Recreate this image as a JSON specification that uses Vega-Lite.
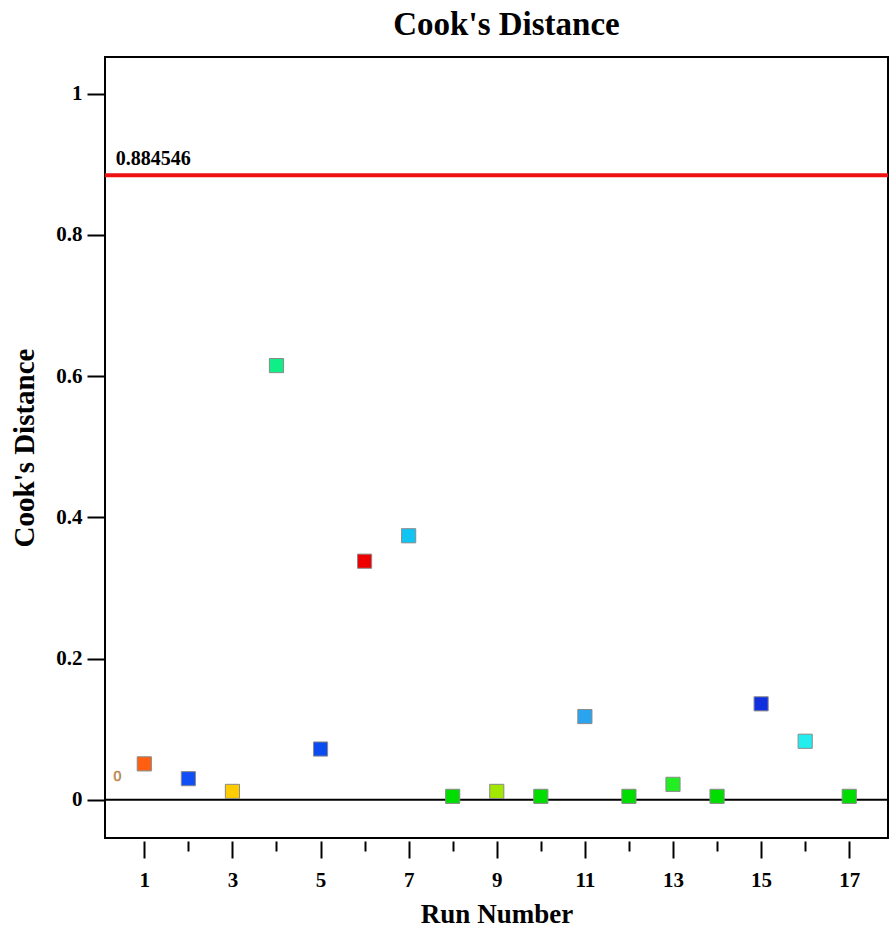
{
  "$schema": "https://vega.github.io/schema/vega-lite/v6.json",
  "width": 783,
  "height": 781,
  "autosize": "none",
  "padding": {"left": 105, "top": 57, "right": 1, "bottom": 94},
  "background": "white",
  "config": {
    "view": {"stroke": "black", "strokeWidth": 2},
    "font": "Liberation Serif"
  },
  "title": {
    "text": "Cook's Distance",
    "font": "Liberation Serif",
    "fontSize": 33,
    "fontWeight": "bold",
    "color": "black",
    "offset": 15,
    "dx": 10
  },
  "datasets": {
    "points": [
      {"run": 1, "d": 0.051},
      {"run": 2, "d": 0.030},
      {"run": 3, "d": 0.012},
      {"run": 4, "d": 0.615},
      {"run": 5, "d": 0.072},
      {"run": 6, "d": 0.338},
      {"run": 7, "d": 0.374},
      {"run": 8, "d": 0.005},
      {"run": 9, "d": 0.012},
      {"run": 10, "d": 0.005},
      {"run": 11, "d": 0.118},
      {"run": 12, "d": 0.005},
      {"run": 13, "d": 0.022},
      {"run": 14, "d": 0.005},
      {"run": 15, "d": 0.136},
      {"run": 16, "d": 0.083},
      {"run": 17, "d": 0.005}
    ],
    "limit": [{"value": 0.884546, "label": "0.884546", "x": 0.35}],
    "zero": [{"value": 0}],
    "stray": [{"x": 0.39, "y": 0.033, "label": "0"}]
  },
  "layer": [
    {
      "data": {"name": "zero"},
      "mark": {"type": "rule", "color": "black", "strokeWidth": 2},
      "encoding": {
        "y": {
          "field": "value",
          "type": "quantitative",
          "scale": {"domain": [-0.054, 1.052], "nice": false, "zero": false},
          "axis": {
            "values": [0, 0.2, 0.4, 0.6, 0.8, 1],
            "format": "~g",
            "title": "Cook's Distance",
            "titleFont": "Liberation Serif",
            "titleFontSize": 29,
            "titleFontWeight": "bold",
            "titleColor": "black",
            "titlePadding": 16,
            "labelFont": "Liberation Serif",
            "labelFontSize": 21,
            "labelFontWeight": "bold",
            "labelColor": "black",
            "labelPadding": 5,
            "tickSize": 18,
            "tickWidth": 2,
            "tickColor": "black",
            "domain": false,
            "grid": false
          }
        }
      }
    },
    {
      "data": {"name": "limit"},
      "layer": [
        {
          "mark": {"type": "rule", "color": "#ee1111", "strokeWidth": 4},
          "encoding": {"y": {"field": "value", "type": "quantitative"}}
        },
        {
          "mark": {"type": "text", "align": "left", "baseline": "alphabetic", "dy": -10, "font": "Liberation Serif", "fontSize": 20, "fontWeight": "bold", "color": "black"},
          "encoding": {
            "y": {"field": "value", "type": "quantitative"},
            "x": {"field": "x", "type": "quantitative"},
            "text": {"field": "label"}
          }
        }
      ]
    },
    {
      "data": {"name": "stray"},
      "mark": {"type": "text", "font": "Liberation Sans", "fontSize": 14, "color": "#2266aa", "stroke": "#ee9933", "strokeWidth": 0.6},
      "encoding": {
        "x": {"field": "x", "type": "quantitative"},
        "y": {"field": "y", "type": "quantitative"},
        "text": {"field": "label"}
      }
    },
    {
      "data": {"name": "points"},
      "mark": {"type": "square", "size": 200, "opacity": 1, "filled": true, "stroke": "#8a8a8a", "strokeWidth": 1},
      "encoding": {
        "x": {
          "field": "run",
          "type": "quantitative",
          "scale": {"domain": [0.108, 17.88], "nice": false, "zero": false},
          "axis": {
            "values": [1, 2, 3, 4, 5, 6, 7, 8, 9, 10, 11, 12, 13, 14, 15, 16, 17],
            "labelExpr": "datum.value % 2 === 1 ? datum.label : ''",
            "title": "Run Number",
            "titleFont": "Liberation Serif",
            "titleFontSize": 27,
            "titleFontWeight": "bold",
            "titleColor": "black",
            "titlePadding": 11,
            "labelFont": "Liberation Serif",
            "labelFontSize": 21,
            "labelFontWeight": "bold",
            "labelColor": "black",
            "labelPadding": 11,
            "labelFlush": false,
            "tickSize": {"condition": {"test": "datum.value % 2 === 1", "value": 17}, "value": 10},
            "tickWidth": 2,
            "tickColor": "black",
            "offset": 3,
            "domain": false,
            "grid": false
          }
        },
        "y": {"field": "d", "type": "quantitative"},
        "color": {
          "field": "run",
          "type": "nominal",
          "legend": null,
          "scale": {
            "domain": [1, 2, 3, 4, 5, 6, 7, 8, 9, 10, 11, 12, 13, 14, 15, 16, 17],
            "range": ["#ff5f10", "#0f4ff5", "#ffcc00", "#10ee88", "#0a4cf0", "#ee0000", "#10c4f4", "#00dd00", "#a2e800", "#00dd00", "#2aa4ee", "#00dd00", "#22ee22", "#00dd00", "#1030e0", "#22eeee", "#00dd00"]
          }
        }
      }
    }
  ]
}
